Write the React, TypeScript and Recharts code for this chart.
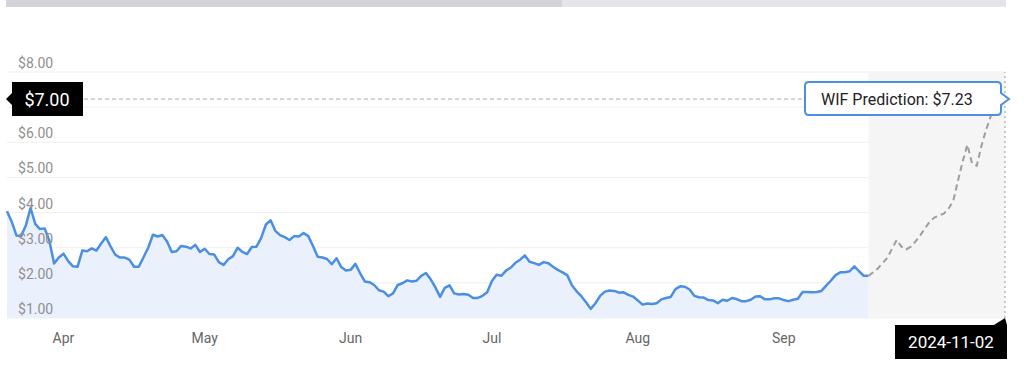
import React from "react";
import {
  ComposedChart,
  Area,
  Line,
  XAxis,
  YAxis,
  CartesianGrid,
  ReferenceArea,
  ReferenceLine,
  ReferenceDot,
} from "recharts";

// day 0 = 2024-03-20, one value per day up to 2024-09-19
const historyPrices = [
  4.04, 3.74, 3.35, 3.33, 3.63, 4.13, 3.68, 3.53, 3.55, 3.2,
  2.55, 2.72, 2.83, 2.62, 2.47, 2.46, 2.92, 2.9, 2.98, 2.92,
  3.12, 3.3, 3.04, 2.8, 2.72, 2.72, 2.66, 2.46, 2.46, 2.73,
  3.0, 3.37, 3.32, 3.36, 3.18, 2.88, 2.9, 3.05, 3.03, 2.98,
  3.08, 2.88, 2.97, 2.82, 2.81, 2.59, 2.51, 2.67, 2.76, 3.0,
  2.88, 2.82, 3.02, 3.03, 3.28, 3.66, 3.78, 3.48, 3.36, 3.3,
  3.22, 3.33, 3.32, 3.42, 3.33, 3.05, 2.74, 2.72, 2.68, 2.53,
  2.7, 2.45, 2.35, 2.37, 2.54, 2.28, 2.04, 2.02, 1.94, 1.79,
  1.75, 1.62, 1.7, 1.94, 1.99, 2.07, 2.04, 2.06, 2.2, 2.28,
  2.1, 1.87, 1.6, 1.86, 1.93, 1.7, 1.67, 1.68, 1.66, 1.57,
  1.57, 1.63, 1.73, 2.05, 2.23, 2.2, 2.35, 2.43, 2.57, 2.66,
  2.78, 2.6, 2.56, 2.51, 2.59, 2.56, 2.46, 2.37, 2.3, 2.22,
  1.93, 1.76, 1.62, 1.45, 1.26, 1.42, 1.63, 1.75, 1.78, 1.77,
  1.72, 1.73, 1.66, 1.61, 1.5, 1.38, 1.41, 1.4, 1.42, 1.53,
  1.57, 1.6, 1.82, 1.9, 1.89, 1.81, 1.63, 1.59, 1.58, 1.51,
  1.5, 1.42, 1.52, 1.49, 1.57, 1.54, 1.48, 1.48, 1.52, 1.61,
  1.62, 1.53, 1.53, 1.56, 1.56, 1.51, 1.48, 1.52, 1.55, 1.74,
  1.74, 1.73, 1.74, 1.77, 1.92, 2.06, 2.22, 2.3, 2.3, 2.33,
  2.47, 2.33, 2.2, 2.2,
];

// forecast path, starting on the last history day
const predictionPrices = [
  2.2, 2.3, 2.41, 2.56, 2.71, 2.97, 3.22, 3.03, 2.95, 3.03,
  3.18, 3.35, 3.55, 3.74, 3.86, 3.92, 3.97, 4.11, 4.33, 4.9,
  5.45, 5.93, 5.4, 5.33, 5.9, 6.36, 6.75, 6.95, 7.1, 7.23,
];

const monthLabels = ["Apr", "May", "Jun", "Jul", "Aug", "Sep"];
const monthTickDays = [12, 42, 73, 103, 134, 165];
const priceTicks = [1, 2, 3, 4, 5, 6, 7, 8];

const predictionTarget = 7.23;
const markerPrice = 7;
const predictionDate = "2024-11-02";

const forecastStart = historyPrices.length - 1;
const lastDay = forecastStart + predictionPrices.length - 1;

const rows: { day: number; price?: number; forecast?: number }[] = [];
for (let d = 0; d <= lastDay; d++) {
  rows.push({
    day: d,
    price: d < historyPrices.length ? historyPrices[d] : undefined,
    forecast: d >= forecastStart ? predictionPrices[d - forecastStart] : undefined,
  });
}

const margin = { top: 72, right: 19, bottom: 19, left: 6 };
const font = "Roboto, sans-serif";

// the $7 tick sits under the black price marker, so it is not drawn
const PriceTick = ({ y, payload }: any) => {
  if (payload.value === markerPrice) return <g />;
  return (
    <text x={18} y={y - 4} fontSize={14} fill="#8f8f8f" fontFamily={font} textAnchor="start">
      ${Number(payload.value).toFixed(2)}
    </text>
  );
};

const MonthTick = ({ x, payload }: any) => {
  const i = monthTickDays.indexOf(payload.value);
  return (
    <text x={x} y={343} fontSize={14} fill="#666" fontFamily={font} textAnchor="middle">
      {monthLabels[i]}
    </text>
  );
};

const PriceMarker = ({ viewBox }: any) => {
  const x = viewBox.x - 1;
  const cy = viewBox.y;
  return (
    <g>
      <path
        d={`M${x} ${cy} L${x + 6} ${cy - 6} V${cy - 17} H${x + 77} V${cy + 17} H${x + 6} V${cy + 6} Z`}
        fill="#000"
      />
      <text x={x + 41} y={cy + 6.5} fontSize={18} fill="#fff" fontFamily={font} textAnchor="middle">
        ${markerPrice.toFixed(2)}
      </text>
    </g>
  );
};

const DateMarker = ({ viewBox }: any) => {
  const lx = viewBox.x;
  const by = viewBox.y + viewBox.height;
  return (
    <g>
      <path d={`M${lx - 11} ${by + 7} L${lx} ${by} L${lx + 2} ${by + 7} Z`} fill="#000" />
      <rect x={lx - 110} y={by + 7} width={112} height={34} fill="#000" />
      <text x={lx - 54} y={by + 30} fontSize={17} fill="#fff" fontFamily={font} textAnchor="middle">
        {predictionDate}
      </text>
    </g>
  );
};

const PredictionBubble = ({ viewBox }: any) => {
  const tipX = viewBox.x + viewBox.width / 2 + 4;
  const cy = viewBox.y + viewBox.height / 2;
  const R = tipX - 8;
  const L = R - 196;
  const T = cy - 17;
  const B = cy + 16;
  const r = 4;
  const d = `M${L + r} ${T} H${R - r} Q${R} ${T} ${R} ${T + r} V${cy - 6} L${tipX} ${cy} L${R} ${cy + 6} V${B - r} Q${R} ${B} ${R - r} ${B} H${L + r} Q${L} ${B} ${L} ${B - r} V${T + r} Q${L} ${T} ${L + r} ${T} Z`;
  return (
    <g>
      <path d={d} fill="#fff" stroke="#4a8fe2" strokeWidth={2} />
      <text x={L + 16} y={cy + 5.5} fontSize={16} fill="#222" fontFamily={font}>
        WIF Prediction: ${predictionTarget.toFixed(2)}
      </text>
    </g>
  );
};

export default function App() {
  return (
    <div style={{ position: "absolute", left: 0, top: 0, width: 1024, height: 367, background: "#fff" }}>
      {/* scroll bar strip on top */}
      <div style={{ position: "absolute", left: 6, top: 0, width: 556, height: 7, background: "#d3d4d9" }} />
      <div style={{ position: "absolute", left: 562, top: 0, width: 444, height: 7, background: "#e4e4ea" }} />

      <ComposedChart width={1024} height={367} data={rows} margin={margin}>
        <ReferenceArea x1={forecastStart} x2={lastDay} y1={1} y2={8} fill="#f5f5f5" fillOpacity={1} stroke="none" />
        <CartesianGrid vertical={false} stroke="#efefef" />
        <XAxis
          dataKey="day"
          type="number"
          domain={[0, lastDay]}
          ticks={monthTickDays}
          tick={<MonthTick />}
          axisLine={false}
          tickLine={false}
          height={30}
        />
        <YAxis
          type="number"
          domain={[1, 8]}
          ticks={priceTicks}
          tick={<PriceTick />}
          axisLine={false}
          tickLine={false}
          width={1}
        />
        <Area
          type="linear"
          dataKey="price"
          stroke="#4a8fe2"
          strokeWidth={2.5}
          strokeLinejoin="round"
          fill="#eaf1fc"
          fillOpacity={1}
          dot={false}
          activeDot={false}
          isAnimationActive={false}
        />
        <Line
          type="linear"
          dataKey="forecast"
          stroke="#9e9e9e"
          strokeWidth={2}
          strokeDasharray="6 4"
          dot={false}
          activeDot={false}
          isAnimationActive={false}
        />
        <ReferenceLine y={predictionTarget} stroke="#aaa" strokeDasharray="4 3" label={<PriceMarker />} />
        <ReferenceLine x={lastDay} stroke="#999" strokeDasharray="2 3" label={<DateMarker />} />
        <ReferenceDot x={lastDay} y={predictionTarget} r={1} fill="none" stroke="none" label={<PredictionBubble />} />
      </ComposedChart>
    </div>
  );
}
